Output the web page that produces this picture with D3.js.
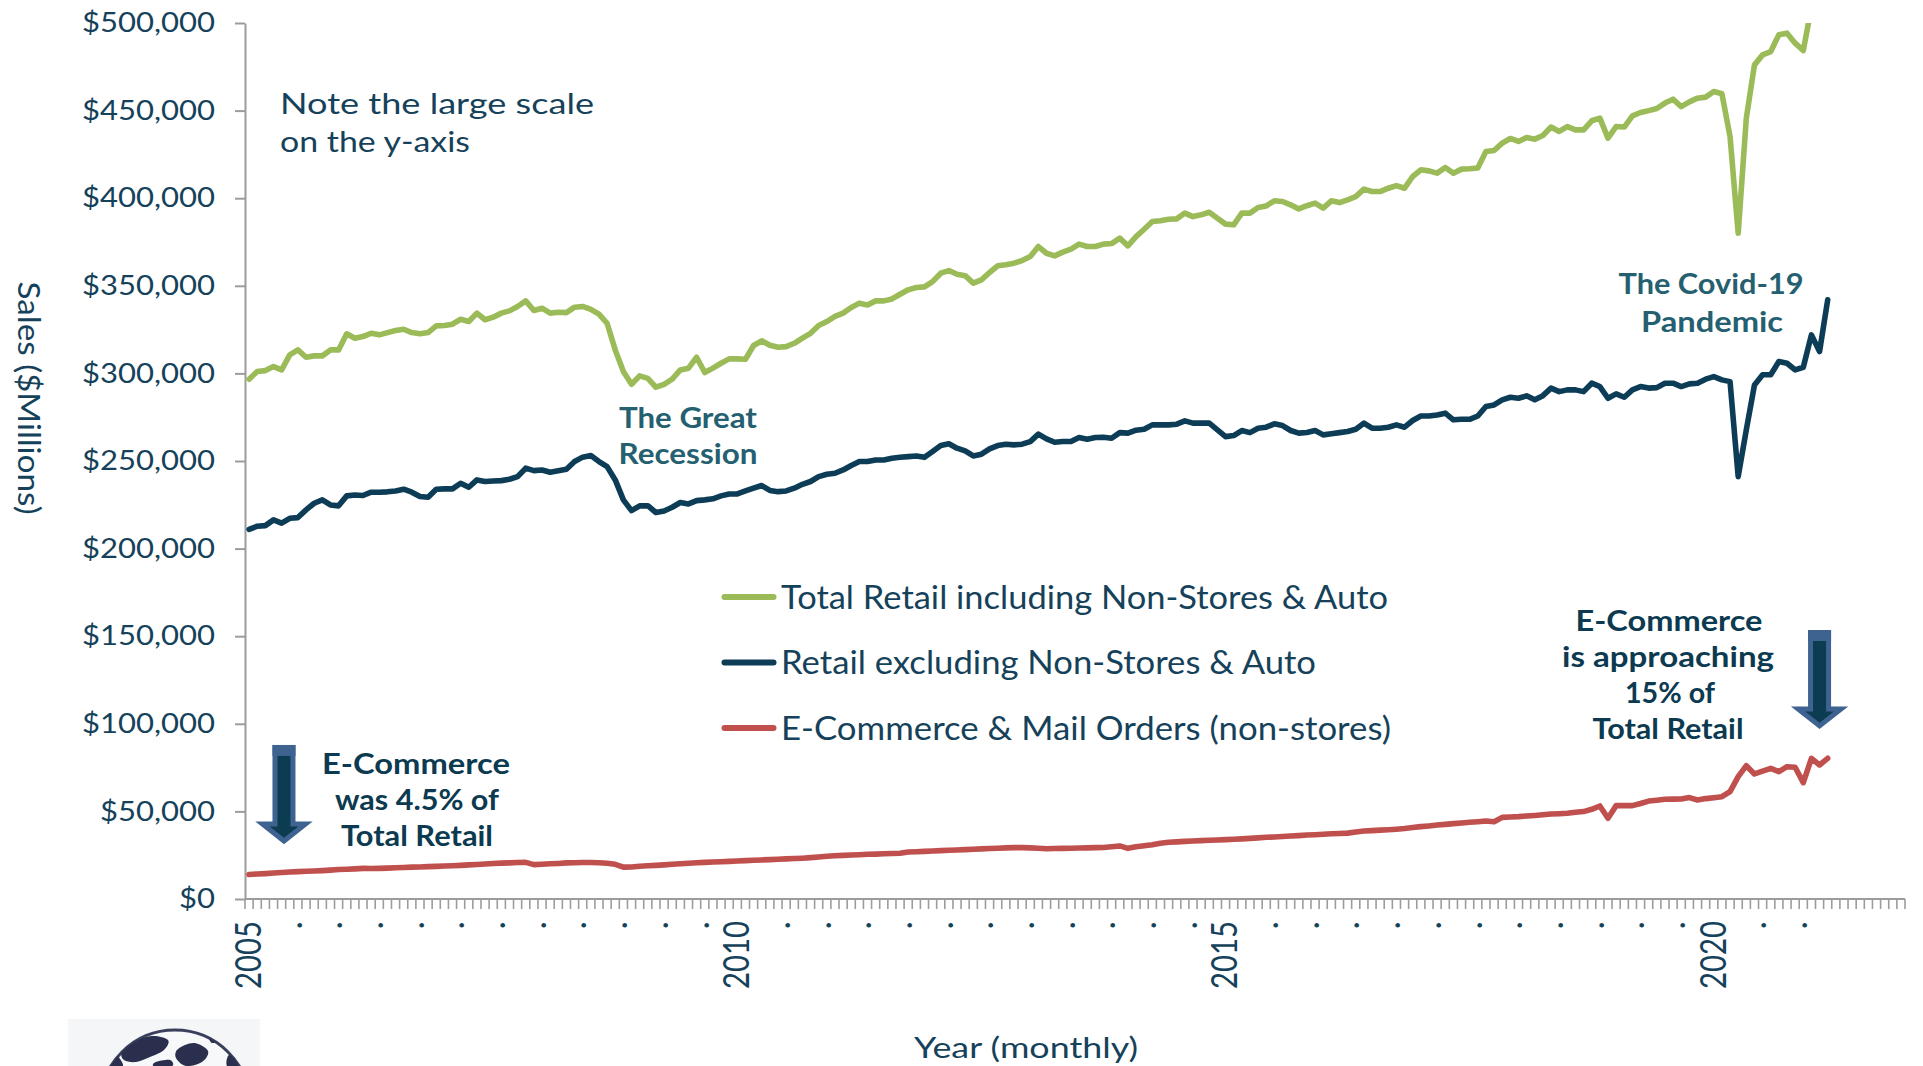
<!DOCTYPE html>
<html>
<head>
<meta charset="utf-8">
<script src="https://cdn.jsdelivr.net/npm/d3@7"></script>
<style>
  body { margin: 0; background: #fff; }
  svg { display: block; }
</style>
</head>
<body>
<div class="chart"></div>
<script>

// ---- data ($ millions, monthly from Jan 2005) ----
const years = [2005, 2006, 2007, 2008, 2009, 2010, 2011, 2012, 2013, 2014, 2015, 2016, 2017, 2018, 2019, 2020, 2021];

const totalRetail = [
    296700, 301100, 301600, 303900, 302000, 310600, 313400, 309200, 310000, 310000, 313400, 313400,
    322600, 320100, 321000, 322900, 322000, 323300, 324500, 325200, 323300, 322600, 323300, 327100,
    327300, 328100, 330900, 329600, 334400, 330600, 332100, 334400, 335700, 338200, 341400, 335900,
    337200, 334400, 334900, 334700, 337800, 338200, 336600, 333800, 328600, 313400, 301100, 293800,
    298600, 297200, 292100, 293800, 296700, 302000, 303000, 309200, 300500, 303000, 305800, 308300,
    308300, 308100, 315900, 318600, 316100, 314900, 315300, 317200, 320100, 322900, 327300, 329600,
    332500, 334400, 337600, 340100, 339100, 341400, 341400, 342500, 345200, 347700, 349000, 349400,
    352400, 357200, 358700, 356600, 355800, 351500, 353400, 357600, 361400, 362000, 362900, 364400,
    366700, 372400, 368600, 367100, 369200, 370900, 373800, 372400, 372400, 373800, 374100, 377200,
    372800, 378100, 382300, 386700, 387100, 388000, 388200, 391500, 389500, 390500, 392000, 388600,
    385200, 384800, 391500, 391500, 394700, 395600, 398500, 398100, 396200, 393900, 395700, 397200,
    394300, 398500, 397500, 399100, 400900, 405200, 403800, 403800, 405700, 407200, 405700, 412400,
    416200, 415600, 414300, 417500, 414300, 416600, 416800, 417200, 426600, 427200, 431400, 434100,
    432400, 434600, 433700, 435800, 440600, 438100, 440900, 439000, 439000, 444200, 445700, 434300,
    440900, 440600, 447000, 448900, 450000, 451200, 454300, 456500, 452300, 455000, 457100, 457700,
    460900, 459600, 435200, 380000, 445700, 476100, 481800, 483700, 493300, 494200, 488500, 484300,
    509000, 505000, 562000
];

const retailExNonStore = [
    211000, 212800, 213100, 216400, 214500, 217300, 217700, 222100, 225900, 227800, 224900, 224400,
    230100, 230600, 230300, 232200, 232200, 232400, 232900, 233900, 232200, 229700, 229300, 233900,
    234100, 234100, 237300, 235000, 239200, 238300, 238600, 238800, 239600, 241100, 245900, 244500,
    244900, 243600, 244500, 245300, 249700, 252200, 253100, 249700, 246800, 239200, 227800, 221700,
    224400, 224500, 220600, 221500, 223600, 226300, 225500, 227400, 227800, 228400, 230100, 231200,
    231200, 232900, 234500, 236000, 233200, 232500, 232900, 234500, 236700, 238300, 241100, 242400,
    243000, 244900, 247400, 249700, 249700, 250600, 250600, 251600, 252100, 252500, 252900, 252100,
    255400, 258800, 259800, 257300, 255800, 252900, 253900, 256900, 258800, 259600, 259200, 259600,
    261100, 265300, 262600, 260700, 261100, 261100, 263400, 262400, 263400, 263600, 263000, 266200,
    265900, 267600, 268100, 270600, 270600, 270600, 271000, 272900, 271600, 271600, 271600, 267800,
    263900, 264500, 267400, 266200, 268700, 269300, 271200, 270200, 267400, 265900, 266300, 267400,
    264900, 265500, 266200, 266800, 268100, 271600, 268700, 268700, 269300, 270600, 269300, 273100,
    275700, 275700, 276300, 277300, 273500, 273800, 273800, 275700, 281100, 282000, 284900, 286400,
    285800, 287200, 284900, 287300, 291600, 289600, 290600, 290600, 289600, 294400, 292500, 285800,
    288300, 286400, 290600, 292500, 291600, 291900, 294400, 294400, 292500, 294000, 294400, 296700,
    298200, 296300, 295300, 241100, 267800, 293400, 299200, 299200, 306800, 305800, 302000, 303500,
    322000, 312500, 342000
];

const eCommerce = [
    14000, 14300, 14500, 14800, 15100, 15400, 15600, 15800, 16000, 16200, 16500, 16800,
    17000, 17200, 17500, 17400, 17500, 17600, 17800, 18000, 18200, 18300, 18500, 18600,
    18800, 19000, 19200, 19500, 19700, 20000, 20300, 20500, 20600, 20800, 20900, 19600,
    19800, 20100, 20300, 20600, 20700, 20800, 20800, 20700, 20400, 19800, 18200, 18300,
    18700, 19000, 19200, 19500, 19800, 20100, 20400, 20700, 20900, 21100, 21300, 21500,
    21700, 21900, 22100, 22300, 22500, 22700, 22900, 23100, 23300, 23600, 24000, 24400,
    24700, 24900, 25100, 25300, 25500, 25600, 25800, 26000, 26100, 26800, 27000, 27200,
    27400, 27600, 27800, 28000, 28200, 28400, 28600, 28800, 29000, 29200, 29300, 29300,
    29200, 29000, 28700, 28800, 28900, 29000, 29100, 29200, 29300, 29400, 29800, 30300,
    28900, 29800, 30400, 31000, 31800, 32400, 32600, 32900, 33100, 33300, 33500, 33700,
    33900, 34100, 34300, 34600, 34900, 35200, 35400, 35700, 36000, 36200, 36500, 36700,
    37000, 37200, 37400, 37600, 38200, 38800, 39000, 39300, 39500, 39800, 40200, 40800,
    41300, 41700, 42200, 42600, 43000, 43400, 43800, 44100, 44500, 44100, 46600, 46800,
    47000, 47400, 47700, 48100, 48500, 48700, 48900, 49500, 49900, 51200, 53100, 46100,
    53300, 53400, 53300, 54500, 55900, 56400, 56900, 57000, 57100, 57900, 56500, 57300,
    57800, 58400, 61300, 69800, 76100, 71400, 73000, 74600, 72700, 75500, 75200, 66400,
    80300, 76500, 80300
];

const seriesNames = [
    "Total Retail including Non-Stores & Auto",
    "Retail excluding Non-Stores & Auto",
    "E-Commerce & Mail Orders (non-stores)"
];
const seriesColors = ["#9BBB59", "#0D3D56", "#C0504D"];

const yTicks = [0, 50000, 100000, 150000, 200000, 250000, 300000, 350000, 400000, 450000, 500000];

// ---- styles ----
const font = "Lato, 'DejaVu Sans', sans-serif";
const textColor = "#15425A";
const tealText = "#256070";
const darkText = "#0C3A50";
const axisGray = "#9C9C9C";

const months = [];
years.forEach(yr => {
    for (let m = 1; m <= 12; m++) months.push(yr + "-" + String(m).padStart(2, "0"));
});

const series = [totalRetail, retailExNonStore, eCommerce].map((values, i) => ({
    name: seriesNames[i],
    color: seriesColors[i],
    values: values
}));

const svg = d3.select(".chart")
    .append("svg")
    .attr("width", 1923)
    .attr("height", 1066)
    .attr("font-family", font);

const x = d3.scaleBand()
    .domain(months)
    .range([245, 1905]);

const y = d3.scaleLinear()
    .domain([0, 500000])
    .range([899, 23]);

const mid = i => x(months[i]) + x.bandwidth() / 2;

function fit(sel, w){
    sel.attr("textLength", w).attr("lengthAdjust", "spacingAndGlyphs");
}

// ---- y axis ----
const yAxis = svg.append("g")
    .attr("transform", "translate(245,0)")
    .call(
        d3.axisLeft(y)
            .tickValues(yTicks)
            .tickSize(10)
            .tickSizeOuter(0)
            .tickPadding(20)
            .tickFormat(d => "$" + d3.format(",")(d))
    )
    .attr("font-family", font)
    .attr("font-size", 27);

yAxis.select(".domain").attr("stroke", axisGray).attr("stroke-width", 2);
yAxis.selectAll(".tick line").attr("stroke", axisGray).attr("stroke-width", 2);
yAxis.selectAll(".tick text").attr("fill", textColor);

// squeeze tick labels so "$500,000" is as wide as in the original
const refW = yAxis.selectAll(".tick text")
    .filter(d => d === 500000)
    .node()
    .getComputedTextLength();
const k = 133 / refW;
yAxis.selectAll(".tick text").each(function(){
    const w = this.getComputedTextLength();
    d3.select(this).attr("textLength", w * k).attr("lengthAdjust", "spacingAndGlyphs");
});

// ---- x axis (category, monthly) ----
const xAxis = svg.append("g");

xAxis.append("line")
    .attr("x1", x.range()[0])
    .attr("x2", x.range()[1])
    .attr("y1", y(0))
    .attr("y2", y(0))
    .attr("stroke", axisGray)
    .attr("stroke-width", 2);

const edges = months.map(m => x(m)).concat([x.range()[1]]);

xAxis.selectAll(".mtick")
    .data(edges)
    .join("line")
    .attr("class", "mtick")
    .attr("x1", d => d)
    .attr("x2", d => d)
    .attr("y1", y(0))
    .attr("y2", y(0) + 10)
    .attr("stroke", axisGray)
    .attr("stroke-width", 1.6);

const labelIdx = d3.range(totalRetail.length).filter(i => i % 5 === 0);

const xLabels = xAxis.selectAll(".xlab")
    .data(labelIdx)
    .join("text")
    .attr("class", "xlab")
    .attr("transform", i => `translate(${mid(i)},921) rotate(-90)`)
    .attr("text-anchor", "end")
    .attr("dy", "0.33em")
    .attr("font-size", 36)
    .attr("fill", textColor)
    .text(i => i % 12 === 0 ? months[i].slice(0, 4) : ".");

fit(xLabels.filter(i => i % 12 === 0), 68);

// axis titles
svg.append("text")
    .attr("transform", "translate(18,398) rotate(90)")
    .attr("text-anchor", "middle")
    .attr("font-size", 30)
    .attr("fill", textColor)
    .text("Sales ($Millions)")
    .call(fit, 233);

svg.append("text")
    .attr("x", 1026)
    .attr("y", 1058)
    .attr("text-anchor", "middle")
    .attr("font-size", 28)
    .attr("fill", textColor)
    .text("Year (monthly)")
    .call(fit, 224);

// ---- lines ----
svg.append("clipPath")
    .attr("id", "plot")
    .append("rect")
    .attr("x", x.range()[0])
    .attr("y", y(500000))
    .attr("width", x.range()[1] - x.range()[0])
    .attr("height", y(0) - y(500000) + 20);

const line = d3.line()
    .x((d, i) => mid(i))
    .y(d => y(d));

svg.append("g")
    .attr("clip-path", "url(#plot)")
    .selectAll("path")
    .data(series)
    .join("path")
    .attr("d", d => line(d.values))
    .attr("fill", "none")
    .attr("stroke", d => d.color)
    .attr("stroke-width", 5.6)
    .attr("stroke-linejoin", "round")
    .attr("stroke-linecap", "round");

// ---- legend ----
const legendW = [607, 535, 610];

const legend = svg.append("g")
    .selectAll("g")
    .data(series)
    .join("g")
    .attr("transform", (d, i) => `translate(0,${597 + i * 65.5})`);

legend.append("line")
    .attr("x1", 724.5)
    .attr("x2", 773.5)
    .attr("stroke", d => d.color)
    .attr("stroke-width", 6)
    .attr("stroke-linecap", "round");

legend.append("text")
    .attr("x", 781)
    .attr("y", 11.7)
    .attr("font-size", 32.5)
    .attr("fill", textColor)
    .text(d => d.name)
    .each(function(d, i){ d3.select(this).call(fit, legendW[i]); });

// ---- notes ----
svg.append("text")
    .attr("x", 280).attr("y", 114)
    .attr("font-size", 28).attr("fill", textColor)
    .text("Note the large scale")
    .call(fit, 314);

svg.append("text")
    .attr("x", 280).attr("y", 152)
    .attr("font-size", 28).attr("fill", textColor)
    .text("on the y-axis")
    .call(fit, 190);

const notes = [
    {t: "The Great", x: 688, y: 428, w: 138, c: tealText},
    {t: "Recession", x: 688, y: 464, w: 139, c: tealText},
    {t: "The Covid-19", x: 1711, y: 294, w: 185, c: tealText},
    {t: "Pandemic", x: 1712, y: 331.5, w: 142, c: tealText},
    {t: "E-Commerce", x: 416, y: 774, w: 188, c: darkText},
    {t: "was 4.5% of", x: 417, y: 810, w: 164, c: darkText},
    {t: "Total Retail", x: 417, y: 846, w: 152, c: darkText},
    {t: "E-Commerce", x: 1669, y: 631, w: 187, c: darkText},
    {t: "is approaching", x: 1668, y: 667, w: 212, c: darkText},
    {t: "15% of", x: 1670, y: 703, w: 90, c: darkText},
    {t: "Total Retail", x: 1668, y: 739, w: 151, c: darkText}
];

svg.append("g")
    .selectAll("text")
    .data(notes)
    .join("text")
    .attr("x", d => d.x)
    .attr("y", d => d.y)
    .attr("text-anchor", "middle")
    .attr("font-size", 28)
    .attr("font-weight", 700)
    .attr("fill", d => d.c)
    .text(d => d.t)
    .attr("textLength", d => d.w)
    .attr("lengthAdjust", "spacingAndGlyphs");

// ---- arrows (placed with the scales) ----
const arrows = [
    {at: 4.29, from: 86500, to: 33100},
    {at: 193.0, from: 152100, to: 98800}
];

const arrowG = svg.append("g")
    .selectAll("g")
    .data(arrows)
    .join("g")
    .attr("transform", d => `translate(${mid(Math.floor(d.at)) + (d.at % 1) * x.bandwidth()},0)`);

arrowG.append("path")
    .attr("d", d => {
        const top = y(d.from), tip = y(d.to), sh = tip - 17;
        return `M-9,${top}H9V${sh}H21.5L0,${tip}L-21.5,${sh}H-9Z`;
    })
    .attr("fill", "#0C3C52")
    .attr("stroke", "#3E6391")
    .attr("stroke-width", 5)
    .attr("stroke-linejoin", "miter");

arrowG.append("rect")
    .attr("x", -11.5)
    .attr("y", d => y(d.from) - 2.5)
    .attr("width", 23)
    .attr("height", 11)
    .attr("fill", "#3E6391");

// ---- small globe logo, bottom left ----
const logo = svg.append("g");

logo.append("rect")
    .attr("x", 68).attr("y", 1019)
    .attr("width", 192).attr("height", 47)
    .attr("fill", "#F4F6F8");

logo.append("clipPath")
    .attr("id", "globe")
    .append("circle")
    .attr("cx", 175).attr("cy", 1105).attr("r", 75);

logo.append("circle")
    .attr("cx", 175).attr("cy", 1105).attr("r", 75)
    .attr("fill", "#F7F8FA")
    .attr("stroke", "#3A3F5C")
    .attr("stroke-width", 3);

const lands = [
    [[122, 1052], [134, 1042], [152, 1036], [168, 1040], [164, 1050], [150, 1057], [136, 1062], [124, 1060]],
    [[178, 1049], [194, 1043], [208, 1051], [202, 1062], [186, 1066], [176, 1058]],
    [[209, 1037], [216, 1035], [219, 1040], [212, 1043]],
    [[103, 1062], [113, 1052], [123, 1066], [106, 1066]],
    [[229, 1055], [240, 1060], [238, 1066], [227, 1066]],
    [[156, 1062], [170, 1060], [172, 1066], [154, 1066]]
];

logo.append("g")
    .attr("clip-path", "url(#globe)")
    .selectAll("path")
    .data(lands)
    .join("path")
    .attr("d", d3.line().curve(d3.curveCardinalClosed))
    .attr("fill", "#2A2F4E");

</script>
</body>
</html>
